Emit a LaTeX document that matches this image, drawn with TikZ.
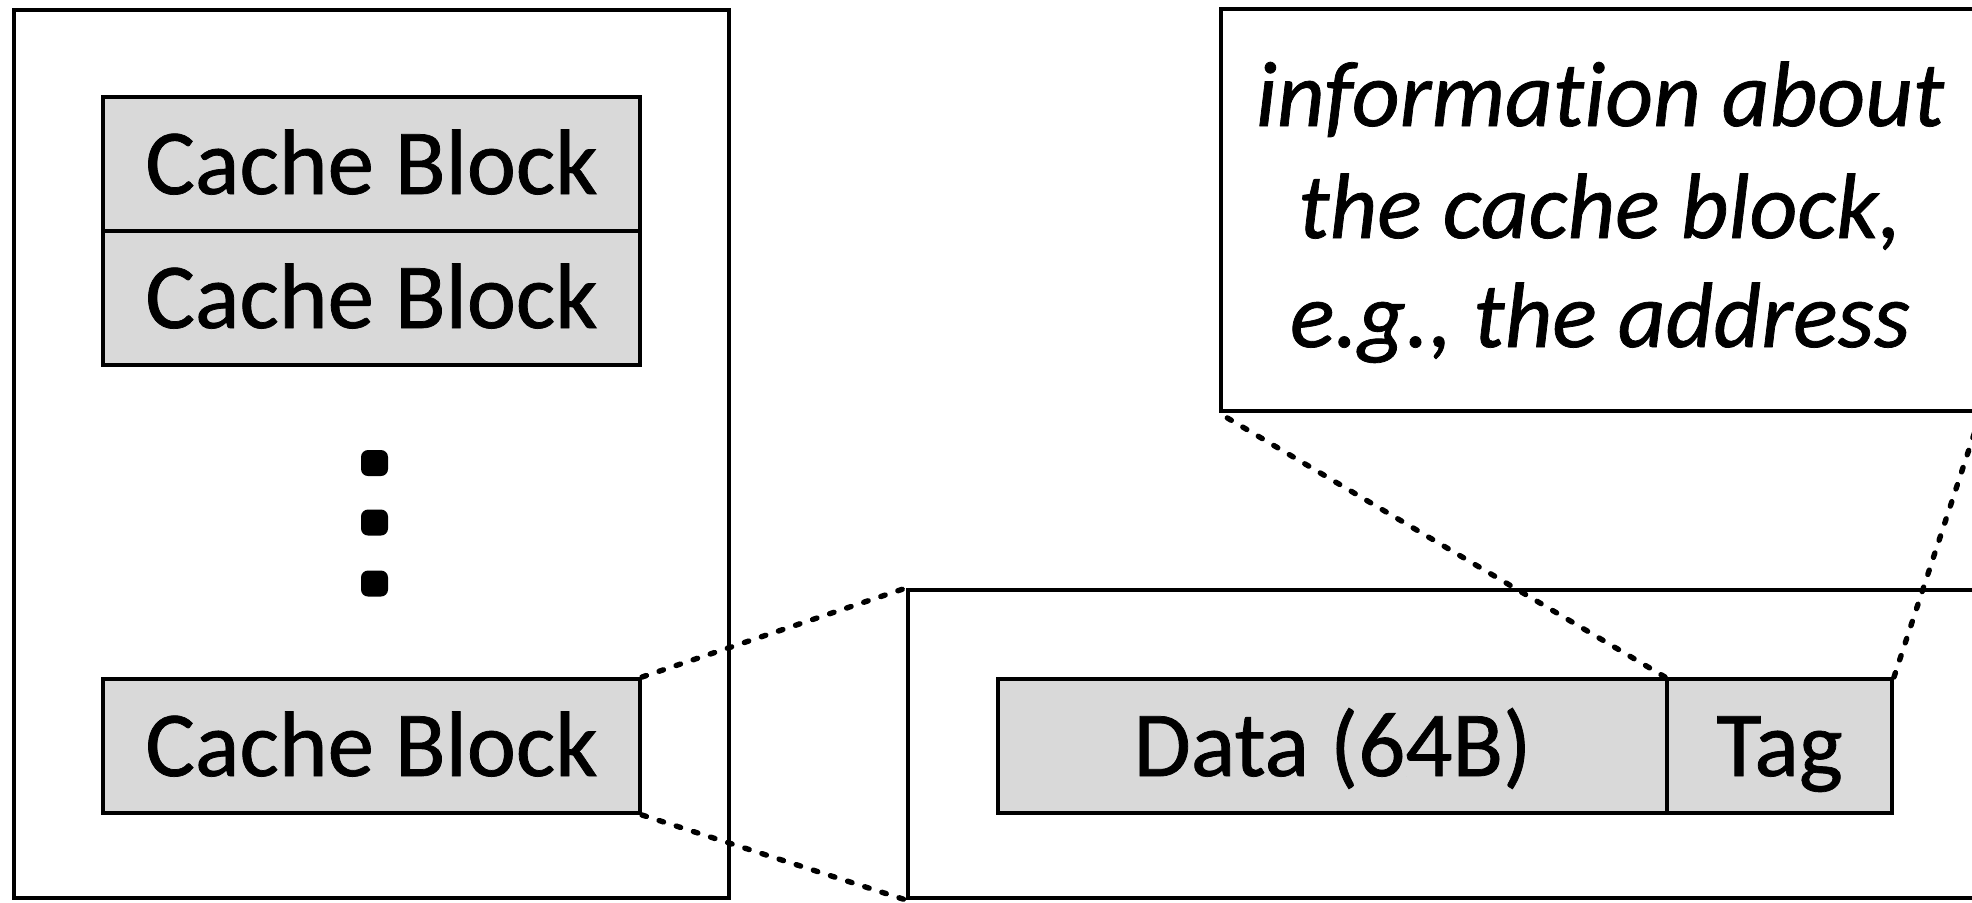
\documentclass[tikz,border=0pt]{standalone}
\usepackage{fontspec}
\setmainfont{Carlito}[Ligatures=NoCommon, FakeBold=0.8]
\definecolor{cbgray}{RGB}{217,217,217}
\begin{document}
\begin{tikzpicture}[x=0.5pt,y=-0.5pt,
  frame/.style={draw=black, line width=2pt, fill=white, inner sep=0pt},
  cell/.style={draw=black, line width=2pt, fill=cbgray, inner sep=0pt,
    font=\fontsize{46.5}{56}\selectfont, text height=30pt, text depth=0pt},
  vdot/.style={fill=black, rounded corners=3.5pt, minimum width=13.5pt, minimum height=13pt, inner sep=0pt},
  infotext/.style={font=\fontsize{46.5}{56}\selectfont\itshape, anchor=base, inner sep=0pt},
  zoomline/.style={line width=2.7pt, line cap=round, dash pattern=on 2.3pt off 6.7pt}]
\useasboundingbox (0,0) rectangle (1972,902);
\fill[white] (0,0) rectangle (1972,902);
% left cache
\node[frame, minimum width=357.5pt, minimum height=444pt] (cache) at (371.5,454) {};
\node[cell, minimum width=268.5pt, minimum height=67pt] (cb1) at (371.5,164) {Cache Block};
\node[cell, minimum width=268.5pt, minimum height=67pt] (cb2) at (371.5,298) {Cache Block};
\node[vdot] (d1) at (374.5,463) {};
\node[vdot] (d2) at (374.5,522.5) {};
\node[vdot] (d3) at (374.5,583.5) {};
\node[cell, minimum width=268.5pt, minimum height=67pt] (cb3) at (371.5,746) {Cache Block};
% right zoomed block
\node[frame, minimum width=596pt, minimum height=154pt] (blk) at (1504,744) {};
\node[cell, minimum width=334.5pt, minimum height=67pt] (data) at (1332.5,746) {Data (64B)};
\node[cell, minimum width=112.5pt, minimum height=67pt] (tag) at (1779.5,746) {Tag};
% info box
\node[frame, minimum width=379pt, minimum height=201pt] (info) at (1600,210) {};
\node[infotext] (t1) at (1600,126) {information about};
\node[infotext] (t2) at (1600,238) {the cache block,};
\node[infotext] (t3) at (1600,347) {e.g., the address};
% connectors
\draw[zoomline] (cb3.north east) -- (blk.north west);
\draw[zoomline] (cb3.south east) -- (blk.south west);
\draw[zoomline] (tag.north west) -- (info.south west);
\draw[zoomline] (tag.north east) -- (info.south east);
\end{tikzpicture}
\end{document}
